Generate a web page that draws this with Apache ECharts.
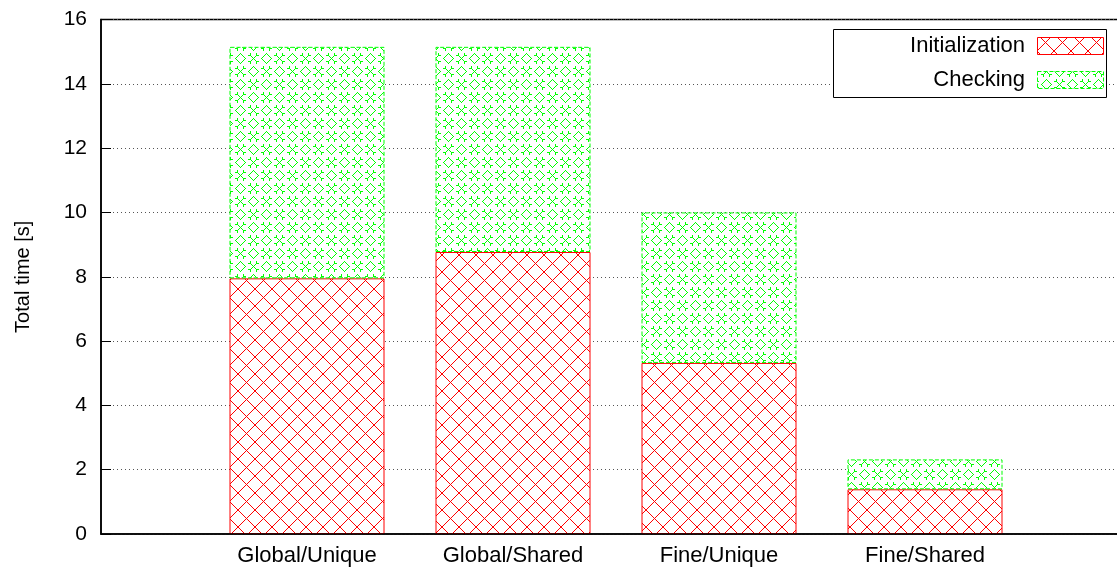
<!DOCTYPE html>
<html>
<head>
<meta charset="utf-8">
<script src="https://cdn.jsdelivr.net/npm/echarts@6/dist/echarts.min.js"></script>
<style>
  html, body { margin: 0; padding: 0; background: #ffffff; overflow: hidden; width: 1117px; height: 568px; }
  /* the plot frame continues slightly past the right edge of the page */
  #chart { width: 1134px; height: 568px; }
</style>
</head>
<body>
<div id="chart"></div>
<script>
// Run-time phases per configuration (seconds)
const categories = ['Global/Unique', 'Global/Shared', 'Fine/Unique', 'Fine/Shared'];
const seriesNames = ['Initialization', 'Checking'];
const initialization = [7.95, 8.77, 5.32, 1.39];
const checking = [7.20, 6.38, 4.68, 0.93];
const yMin = 0, yMax = 16, yStep = 2;

const FONT = '"Liberation Sans", Arial, Helvetica, sans-serif';
const RED = '#ff0000';
const GREEN = '#00ff00';

// One empty slot on each side of the four bars
const slots = [''].concat(categories, ['']);
const pad = arr => ['-'].concat(arr, ['-']);

function tile(size) {
  const c = document.createElement('canvas');
  c.width = size; c.height = size;
  const g = c.getContext('2d');
  g.fillStyle = '#ffffff';
  g.fillRect(0, 0, size, size);
  return { c, g };
}

// Diagonal cross-hatch tile (red), drawn pixel by pixel for crisp lines
function hatchTile() {
  const s = 17;
  const { c, g } = tile(s);
  g.fillStyle = RED;
  for (let i = 0; i < s; i++) {
    g.fillRect(i, i, 1, 1);
    g.fillRect(s - 1 - i, i, 1, 1);
  }
  return c;
}

// Diamond / cross tile (green)
function diamondTile() {
  const s = 26;
  const { c, g } = tile(s);
  g.fillStyle = GREEN;
  const px = (x, y) => g.fillRect(((x % s) + s) % s, ((y % s) + s) % s, 1, 1);
  function diamond(cx, cy, r) {
    for (let dx = -r; dx <= r; dx++) {
      const dy = r - Math.abs(dx);
      px(cx + dx, cy + dy);
      px(cx + dx, cy - dy);
    }
  }
  function cross(cx, cy, r) {
    for (let d = -r; d <= r; d++) {
      px(cx + d, cy + d);
      px(cx + d, cy - d);
    }
    // short end bars on the arms
    [[-1, -1], [1, -1], [-1, 1], [1, 1]].forEach(([sx, sy]) => {
      px(cx + sx * (r + 1), cy + sy * r);
      px(cx + sx * (r + 2), cy + sy * r);
      px(cx + sx * r, cy + sy * (r + 1));
      px(cx + sx * r, cy + sy * (r + 2));
    });
  }
  diamond(6, 6, 5);
  diamond(19, 19, 5);
  cross(19, 6, 3);
  cross(6, 19, 3);
  return c;
}

const redFill = { image: hatchTile(), repeat: 'repeat' };
const greenFill = { image: diamondTile(), repeat: 'repeat' };

const chart = echarts.init(document.getElementById('chart'), null, { renderer: 'canvas' });

const legendX = 833, legendY = 29, legendW = 273, legendH = 68;
const legendItems = [
  { name: seriesNames[0], fill: redFill, stroke: RED, dash: null },
  { name: seriesNames[1], fill: greenFill, stroke: GREEN, dash: [4, 2] }
];
const legendGraphics = [{
  type: 'rect',
  shape: { x: legendX + 0.5, y: legendY + 0.5, width: legendW, height: legendH },
  style: { fill: '#ffffff', stroke: '#000000', lineWidth: 1 },
  z: 50
}];
legendItems.forEach((it, i) => {
  const cy = legendY + 17 + i * 34;
  legendGraphics.push({
    type: 'text',
    style: {
      text: it.name, x: 1025, y: cy, align: 'right', verticalAlign: 'middle',
      font: '22px ' + FONT, fill: '#000000'
    },
    z: 51
  });
  legendGraphics.push({
    type: 'rect',
    shape: { x: 1037.5, y: cy - 8.5, width: 66, height: 17 },
    style: { fill: it.fill, stroke: it.stroke, lineWidth: 1, lineDash: it.dash },
    z: 51
  });
});

chart.setOption({
  backgroundColor: '#ffffff',
  animation: false,
  textStyle: { fontFamily: FONT },
  grid: {
    left: 101, top: 19.5, right: 0, bottom: 34,
    show: true, borderColor: '#000000', borderWidth: 1.5, backgroundColor: 'transparent'
  },
  xAxis: {
    type: 'category',
    data: slots,
    boundaryGap: false,
    z: 10,
    axisLine: { show: true, onZero: false, lineStyle: { color: '#000000', width: 1.5 } },
    axisTick: { show: false },
    splitLine: { show: false },
    axisLabel: { color: '#000000', fontSize: 22, fontFamily: FONT, margin: 11, interval: 0 }
  },
  yAxis: {
    type: 'value',
    min: yMin, max: yMax, interval: yStep,
    name: 'Total time [s]',
    nameLocation: 'middle',
    nameGap: 68,
    nameTextStyle: { color: '#000000', fontSize: 20, fontFamily: FONT },
    axisLine: { show: true, onZero: false, lineStyle: { color: '#000000', width: 1.5 } },
    axisTick: { show: true, inside: true, length: 10, lineStyle: { color: '#000000', width: 1 } },
    splitLine: { show: true, lineStyle: { color: '#555555', width: 1, type: [1, 3] } },
    axisLabel: { color: '#000000', fontSize: 21, fontFamily: FONT, margin: 14 }
  },
  series: [
    {
      name: seriesNames[0], type: 'bar', stack: 'total', barWidth: 155,
      data: pad(initialization),
      itemStyle: { color: redFill, borderColor: RED, borderWidth: 1 },
      emphasis: { disabled: true }
    },
    {
      name: seriesNames[1], type: 'bar', stack: 'total', barWidth: 155,
      data: pad(checking),
      itemStyle: { color: greenFill, borderColor: GREEN, borderWidth: 1, borderType: [4, 2] },
      emphasis: { disabled: true }
    }
  ],
  graphic: legendGraphics
});
</script>
</body>
</html>
